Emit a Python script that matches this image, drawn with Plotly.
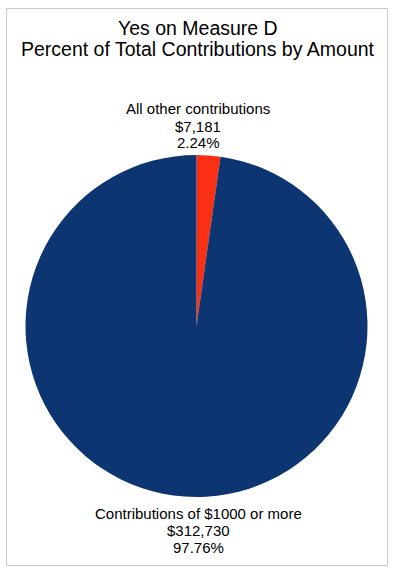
import plotly.graph_objects as go

title_lines = ["Yes on Measure D", "Percent of Total Contributions by Amount"]
labels = ["All other contributions", "Contributions of $1000 or more"]
amounts = [7181, 312730]
percents = [2.24, 97.76]
colors = ["#fa3014", "#0c3572"]

W, H = 396, 573
def px(x): return x / W
def py(y): return 1 - y / H

fig = go.Figure(go.Pie(
    labels=labels, values=amounts, sort=False, direction="clockwise", rotation=0,
    marker=dict(colors=colors, line=dict(width=0)),
    textinfo="none", hoverinfo="label+value+percent", showlegend=False,
    domain=dict(x=[px(25), px(368)], y=[py(497), py(155)]),
))

font = dict(family="Liberation Sans, Arial, sans-serif", color="black")
annotations = []
for line, yy in zip(title_lines, [28.5, 49.5]):
    annotations.append(dict(text=line, x=px(198), y=py(yy), xref="paper", yref="paper",
                            showarrow=False, xanchor="center", yanchor="middle",
                            font=dict(size=19.5, **font)))
label_y = [[109, 126, 142.5], [513.5, 530.5, 547.5]]
for lab, amt, pct, ys in zip(labels, amounts, percents, label_y):
    for line, yy in zip([lab, f"${amt:,}", f"{pct:.2f}%"], ys):
        annotations.append(dict(text=line, x=px(198), y=py(yy), xref="paper", yref="paper",
                                showarrow=False, xanchor="center", yanchor="middle",
                                font=dict(size=15, **font)))

fig.update_layout(
    width=W, height=H, margin=dict(l=0, r=0, t=0, b=0),
    paper_bgcolor="white", plot_bgcolor="white",
    annotations=annotations,
    shapes=[dict(type="rect", xref="paper", yref="paper", x0=px(6.5), x1=px(387.5),
                 y0=py(565.5), y1=py(8.5), line=dict(color="#cccccc", width=1))],
)
fig.write_html("out.html", config={"displayModeBar": False},
               post_script="document.body.style.margin='0';document.body.style.overflow='hidden';")
